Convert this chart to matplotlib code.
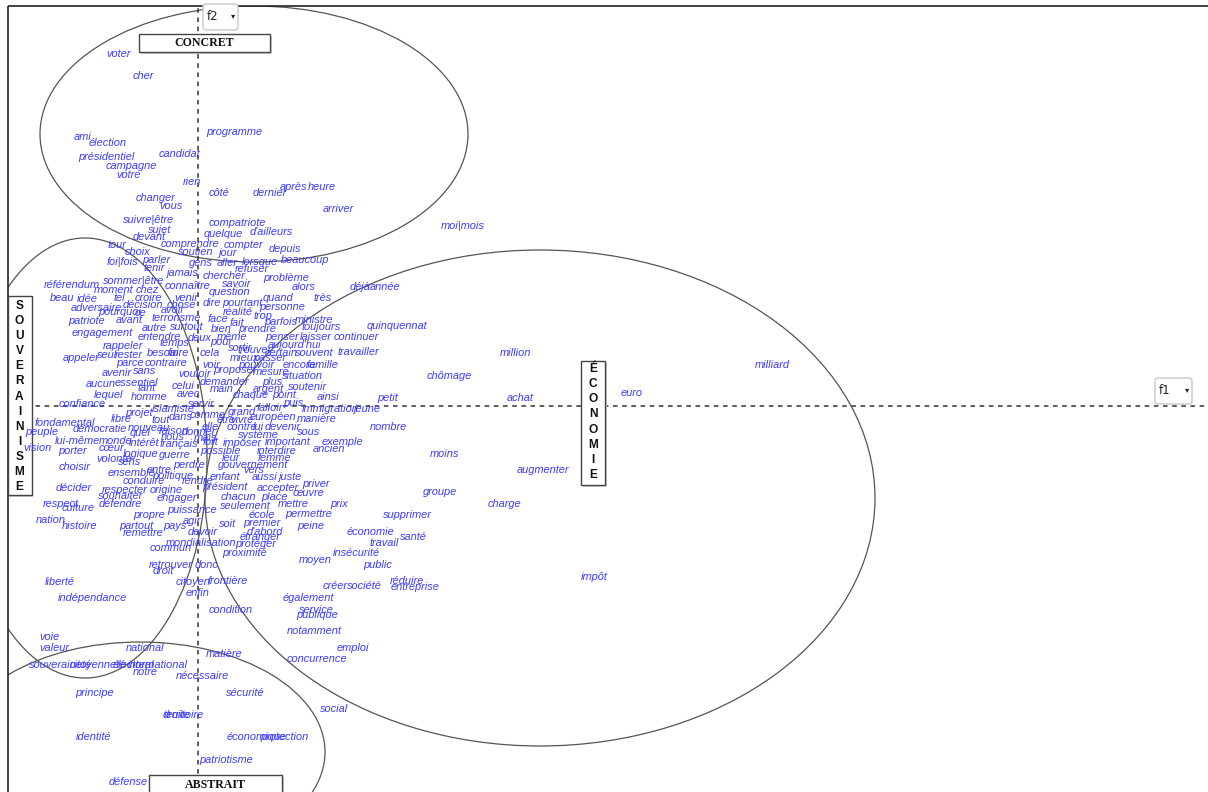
import matplotlib
matplotlib.use("Agg")
import matplotlib.pyplot as plt
from matplotlib.patches import Ellipse, Rectangle, FancyBboxPatch

# ---- data: factor scores (f1, f2) of each lemma, in display units ----
concret_words = [
    ("voter", -92, 352), ("cher", -65, 330), ("programme", 8, 274), ("ami", -124, 269),
    ("élection", -109, 263), ("présidentiel", -120, 249), ("candidat", -39, 252),
    ("campagne", -92, 240), ("votre", -82, 231), ("rien", -15, 224), ("côté", 11, 213),
    ("dernier", 55, 213), ("après", 82, 219), ("heure", 110, 219), ("changer", -62, 208),
    ("vous", -39, 200), ("arriver", 125, 197), ("suivre|être", -75, 186), ("sujet", -50, 176),
    ("devant", -65, 169), ("compatriote", 11, 183), ("quelque", 6, 172), ("d'ailleurs", 52, 174),
    ("moi|mois", 243, 180), ("tour", -91, 161), ("choix", -73, 154), ("comprendre", -37, 162),
    ("soutien", -20, 154), ("compter", 26, 161), ("jour", 20, 153), ("depuis", 71, 157),
]
souverainisme_words = [
    ("foi|fois", -91, 144), ("parler", -56, 146), ("tenir", -55, 138), ("jamais", -32, 133),
    ("référendum", -154, 121), ("sommer|être", -95, 125), ("connaître", -33, 120),
    ("moment", -104, 116), ("chez", -62, 116), ("beau", -148, 108), ("idée", -121, 107),
    ("tel", -85, 108), ("croire", -63, 108), ("venir", -24, 108), ("adversaire", -127, 98),
    ("décision", -75, 101), ("chose", -31, 101), ("pourquoi", -100, 94), ("ce", -63, 93),
    ("avoir", -37, 96), ("patriote", -130, 85), ("avant", -82, 86), ("terrorisme", -47, 88),
    ("autre", -56, 78), ("surtout", -28, 79), ("engagement", -126, 73), ("entendre", -60, 69),
    ("deux", -10, 68), ("temps", -39, 63), ("rappeler", -95, 60), ("besoin", -51, 53),
    ("faire", -30, 53), ("seul", -101, 51), ("rester", -83, 51), ("appeler", -135, 48),
    ("parce", -82, 43), ("contraire", -53, 43), ("sans", -65, 35), ("avenir", -96, 33),
    ("vouloir", -20, 32), ("aucun", -112, 22), ("essentiel", -83, 23), ("celui", -26, 20),
    ("tant", -61, 18), ("avec", -21, 12), ("lequel", -104, 11), ("homme", -67, 9),
    ("servir", -10, 2), ("confiance", -139, 2), ("islamiste", -46, -3), ("projet", -73, -7),
    ("comme", -8, -9), ("dans", -29, -11), ("libre", -87, -13), ("tout", -47, -14),
    ("fondamental", -163, -17), ("nouveau", -70, -22), ("démocratie", -125, -23),
    ("raison", -39, -25), ("donner", -16, -26), ("peuple", -173, -26), ("quel", -68, -27),
    ("mais", -4, -32), ("nous", -37, -31), ("lui-même", -143, -35), ("monde", -99, -35),
    ("intérêt", -69, -37), ("français", -38, -38), ("vision", -175, -42), ("cœur", -99, -42),
    ("porter", -140, -45), ("logique", -75, -48), ("guerre", -39, -49), ("volonté", -102, -53),
    ("sens", -80, -56), ("perdre", -25, -59), ("choisir", -139, -61), ("entre", -51, -64),
    ("ensemble", -90, -67), ("politique", -46, -70), ("conduire", -75, -75), ("rendre", -16, -75),
    ("décider", -142, -82), ("respecter", -96, -84), ("origine", -48, -84),
    ("souhaiter", -100, -90), ("engager", -41, -92), ("défendre", -99, -98),
    ("respect", -155, -98), ("culture", -136, -102), ("puissance", -31, -104),
    ("propre", -65, -109), ("nation", -162, -114), ("agir", -15, -115), ("histoire", -136, -120),
    ("partout", -79, -120), ("pays", -35, -120), ("devoir", -10, -126), ("remettre", -75, -127),
    ("mondialisation", -32, -137), ("commun", -48, -142), ("retrouver", -49, -159),
    ("donc", -3, -159), ("droit", -45, -165), ("liberté", -153, -176), ("citoyen", -22, -176),
    ("enfin", -12, -187), ("indépendance", -140, -192),
]
centre_words = [
    ("gens", -9, 143), ("aller", 19, 143), ("lorsque", 44, 144), ("beaucoup", 83, 146),
    ("refuser", 37, 137), ("chercher", 5, 130), ("problème", 65, 128), ("savoir", 24, 122),
    ("alors", 94, 119), ("question", 11, 114), ("quand", 65, 108), ("très", 115, 108),
    ("dire", 5, 103), ("pourtant", 24, 103), ("personne", 61, 99), ("réalité", 25, 94),
    ("trop", 55, 90), ("face", 10, 87), ("fait", 32, 83), ("parfois", 66, 84),
    ("ministre", 97, 86), ("toujours", 103, 79), ("bien", 13, 77), ("prendre", 40, 77),
    ("même", 19, 69), ("penser", 67, 69), ("laisser", 102, 69), ("pour", 12, 64),
    ("aujourd'hui", 70, 61), ("sortir", 30, 58), ("trouver", 40, 56), ("cela", 2, 53),
    ("certain", 67, 53), ("souvent", 97, 53), ("mieux", 32, 48), ("passer", 55, 48),
    ("voir", 4, 41), ("pouvoir", 40, 41), ("encore", 85, 41), ("famille", 109, 41),
    ("proposer", 15, 36), ("mesure", 55, 34), ("situation", 84, 30), ("demander", 2, 24),
    ("plus", 64, 24), ("main", 12, 17), ("argent", 55, 17), ("soutenir", 90, 19),
    ("chaque", 35, 11), ("point", 74, 11), ("ainsi", 119, 9), ("puis", 85, 3),
    ("falloir", 59, -2), ("immigration", 104, -3), ("grand", 30, -6), ("européen", 52, -11),
    ("manière", 99, -13), ("être", 19, -14), ("vivre", 32, -14), ("elle", 4, -21),
    ("contre", 29, -21), ("lui", 55, -21), ("devenir", 67, -21), ("sous", 99, -26),
    ("système", 40, -29), ("fort", 5, -36), ("imposer", 25, -37), ("important", 67, -36),
    ("exemple", 124, -36), ("ancien", 115, -43), ("possible", 2, -45), ("interdire", 59, -45),
    ("leur", 24, -52), ("femme", 60, -52), ("gouvernement", 20, -59), ("vers", 45, -64),
    ("enfant", 12, -71), ("aussi", 54, -71), ("juste", 80, -71), ("priver", 104, -78),
    ("président", 4, -81), ("accepter", 59, -82), ("œuvre", 95, -87), ("chacun", 23, -91),
    ("place", 63, -91), ("mettre", 80, -98), ("prix", 132, -98), ("seulement", 22, -100),
    ("école", 51, -109), ("permettre", 87, -108), ("premier", 45, -117), ("soit", 21, -118),
    ("peine", 99, -120), ("d'abord", 49, -126), ("étranger", 42, -131), ("protéger", 37, -138),
    ("proximité", 24, -147), ("moyen", 101, -154), ("frontière", 10, -175),
    ("insécurité", 135, -147), ("créer", 125, -180), ("également", 85, -192),
    ("condition", 11, -204), ("service", 101, -204), ("publique", 98, -209),
    ("notamment", 89, -225), ("concurrence", 89, -253), ("emploi", 139, -242),
    ("social", 122, -303),
]
economie_words = [
    ("déjà", 152, 119), ("année", 172, 119), ("quinquennat", 169, 80), ("continuer", 136, 69),
    ("million", 302, 53), ("travailler", 139, 54), ("milliard", 557, 41), ("chômage", 229, 30),
    ("euro", 423, 13), ("petit", 179, 8), ("achat", 309, 8), ("jeune", 155, -3),
    ("nombre", 172, -21), ("moins", 232, -48), ("augmenter", 319, -64), ("groupe", 225, -86),
    ("charge", 290, -98), ("supprimer", 185, -109), ("économie", 149, -126), ("santé", 202, -131),
    ("travail", 172, -137), ("public", 165, -159), ("impôt", 383, -171), ("réduire", 192, -175),
    ("société", 149, -180), ("entreprise", 193, -181),
]
abstrait_words = [
    ("voie", -159, -231), ("valeur", -159, -242), ("national", -72, -242), ("matière", 8, -248),
    ("souveraineté", -169, -259), ("citoyenneté", -128, -259), ("électoral", -85, -259),
    ("international", -70, -259), ("notre", -65, -266), ("nécessaire", -22, -270),
    ("principe", -123, -287), ("sécurité", 28, -287), ("territoire", -35, -309),
    ("droite", -35, -309), ("identité", -122, -331), ("économique", 29, -331),
    ("protection", 62, -331), ("patriotisme", 1, -354), ("défense", -89, -376),
]

# thematic regions: (label, centre f1, centre f2, width, height)
region_names = ["CONCRET", "SOUVERAINISME", "ÉCONOMIE", "ABSTRAIT"]
region_cx = [56, -113, 342, -58]
region_cy = [272, -52, -92, -346]
region_w = [428, 244, 670, 370]
region_h = [256, 440, 496, 220]

# ---- figure ----
fig = plt.figure(figsize=(12.08, 7.92), dpi=100)
ax = fig.add_axes([0, 0, 1, 1])
ax.set_xlim(-198, 1010)
ax.set_ylim(-386, 406)
ax.axis("off")

clip = Rectangle((-190, -400), 1300, 800, transform=ax.transData)

# frame
ax.plot([-190, -190], [-386, 400], color="#222222", lw=1.2, solid_capstyle="butt")
ax.plot([-190, 1010], [400, 400], color="#222222", lw=1.2, solid_capstyle="butt")

# dashed factor axes
ax.plot([0, 0], [-386, 400], color="#333333", lw=1.1, linestyle=(0, (3, 3)))
ax.plot([-190, 1010], [0, 0], color="#333333", lw=1.1, linestyle=(0, (3, 3)))

# regions
for cx, cy, w, h in zip(region_cx, region_cy, region_w, region_h):
    e = Ellipse((cx, cy), w, h, fill=False, edgecolor="#555555", lw=0.9)
    ax.add_patch(e)
    e.set_clip_path(clip)

# words
word_style = dict(fontsize=7.9, color="#3c3cff", style="italic",
                  family="Liberation Sans", ha="left", va="center", zorder=8)
for group in (concret_words, souverainisme_words, centre_words, economie_words, abstrait_words):
    for w, x, y in group:
        ax.text(x, y, w, **word_style)

# horizontal label boxes
def hbox(label, cx, cy, w, h):
    ax.add_patch(Rectangle((cx - w / 2 + 1.5, cy - h / 2 - 1.5), w, h,
                           facecolor="#cccccc", edgecolor="none", zorder=4))
    ax.add_patch(Rectangle((cx - w / 2, cy - h / 2), w, h,
                           facecolor="white", edgecolor="#444444", lw=1, zorder=5))
    ax.text(cx, cy, label, ha="center", va="center", fontsize=8.6, weight="bold",
            family="Liberation Serif", color="#111111", zorder=6)

hbox(region_names[0], 6.5, 363, 131, 18)
hbox(region_names[3], 17.5, -379, 133, 20)

# vertical label boxes
def vbox(label, cx, top, bottom, first, step):
    ax.add_patch(Rectangle((cx - 12 + 1.5, bottom - 1.5), 24, top - bottom,
                           facecolor="#cccccc", edgecolor="none", zorder=4))
    ax.add_patch(Rectangle((cx - 12, bottom), 24, top - bottom,
                           facecolor="white", edgecolor="#444444", lw=1, zorder=5))
    for i, ch in enumerate(label):
        ax.text(cx, first - i * step, ch, ha="center", va="center", fontsize=8.6,
                weight="bold", family="Liberation Sans", color="#111111", zorder=6)

vbox(region_names[1], -178.5, 110, -89, 100, 15.1)
vbox(region_names[2], 395, 45, -79, 37, 15.15)

# axis selectors
def selector(label, x0, y0, w, h):
    ax.add_patch(FancyBboxPatch((x0, y0), w, h, boxstyle="round,pad=0,rounding_size=3",
                                facecolor="white", edgecolor="#c8c8c8", lw=1, zorder=5))
    ax.text(x0 + 4, y0 + h / 2, label, ha="left", va="center", fontsize=8.5,
            family="DejaVu Sans", color="#222222", zorder=6)
    ax.text(x0 + w - 5, y0 + h / 2 + 1, "▾", ha="center", va="center", fontsize=6,
            family="DejaVu Sans", color="#222222", zorder=6)

selector("f2", 5, 376, 35, 26)
selector("f1", 957, 2, 37, 26)

fig.savefig("out.png", dpi=100, facecolor="white")
